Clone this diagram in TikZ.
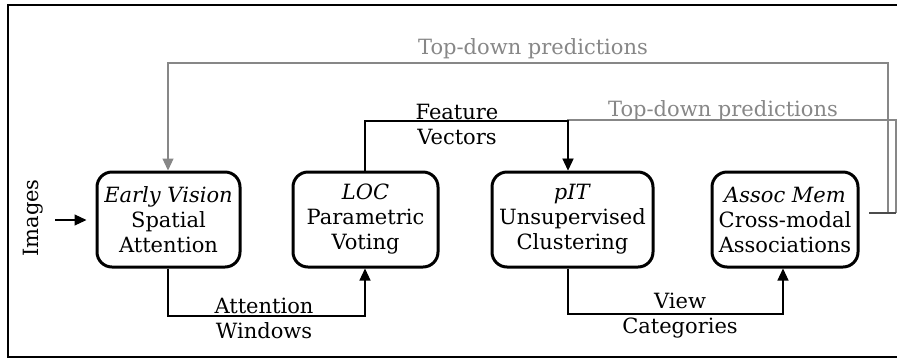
\documentclass[tikz,border=0pt]{standalone}
\usepackage{fontspec}
\setmainfont{DejaVu Serif}
\usetikzlibrary{arrows.meta}
\definecolor{tdgray}{RGB}{135,135,135}
\tikzset{
  box/.style={draw=black, line width=3pt, rounded corners=15pt, align=center,
    inner sep=0pt, minimum height=95pt},
  txt/.style={font=\fontsize{21}{25}\selectfont, align=center, inner sep=0pt},
  conn/.style={line width=1.2pt, -{Triangle[length=12pt,width=11pt]}},
  gconn/.style={draw=tdgray, line width=1.2pt, -{Triangle[length=12pt,width=11pt]}},
}
\begin{document}
\begin{tikzpicture}[x=1pt,y=-1pt]
\useasboundingbox (0,0) rectangle (897,360);
\fill[white] (0,0) rectangle (897,360);
\draw[line width=2pt] (905,5) -- (8,5) -- (8,357) -- (905,357);

\node[box, txt, minimum width=143pt] (ev) at (168.5,219.5) {\textit{Early Vision}\\Spatial\\Attention};
\node[box, txt, minimum width=145pt] (loc) at (365.5,219.5) {\textit{LOC}\\Parametric\\Voting};
\node[box, txt, minimum width=161pt] (pit) at (572.5,219.5) {\textit{pIT}\\Unsupervised\\Clustering};
\node[box, txt, minimum width=146pt] (am) at (785,219.5) {\textit{Assoc Mem}\\Cross-modal\\Associations};

\node[txt, rotate=90] (img) at (33,218) {Images};
\draw[conn, shorten >=9pt] (img.south |- 0,220) ++(12,0) coordinate (imgR) -- (ev.west |- imgR);

% Attention Windows
\coordinate (aw1) at (168,316);
\coordinate (aw2) at (365,316);
\draw[conn] (ev.south -| aw1) -- (aw1) -- (aw2) -- (loc.south -| aw2);
\node[txt] (awl) at (264,318) {Attention\\Windows};

% View Categories
\coordinate (vc1) at (568,314);
\coordinate (vc2) at (783,314);
\draw[conn] (pit.south -| vc1) -- (vc1) -- (vc2) -- (am.south -| vc2);
\node[txt] (vcl) at (680,316) {View\\Categories};

% Top-down predictions
\coordinate (stub) at (869,213);
\coordinate (td1a) at (888,213);
\coordinate (td1b) at (888,63);
\coordinate (td1c) at (168,63);
\coordinate (td2a) at (896,213);
\coordinate (td2b) at (896,120);
\coordinate (td2c) at (568,120);
\draw[gconn] (td1a) -- (td1b) -- (td1c) -- (ev.north -| td1c);
\draw[gconn] (td2a) -- (td2b) -- (td2c) -- (pit.north -| td2c);
\draw[draw=black!70, line width=1.5pt] (stub) -- (td2a);
\node[txt, text=tdgray] (td1l) at (533,49) {Top-down predictions};
\node[txt, text=tdgray] (td2l) at (723,111) {Top-down predictions};

% Feature Vectors
\coordinate (fv1) at (365,121);
\coordinate (fv2) at (568,121);
\draw[conn] (loc.north -| fv1) -- (fv1) -- (fv2) -- (pit.north -| fv2);
\node[txt] (fvl) at (457,124) {Feature\\Vectors};
\end{tikzpicture}
\end{document}
